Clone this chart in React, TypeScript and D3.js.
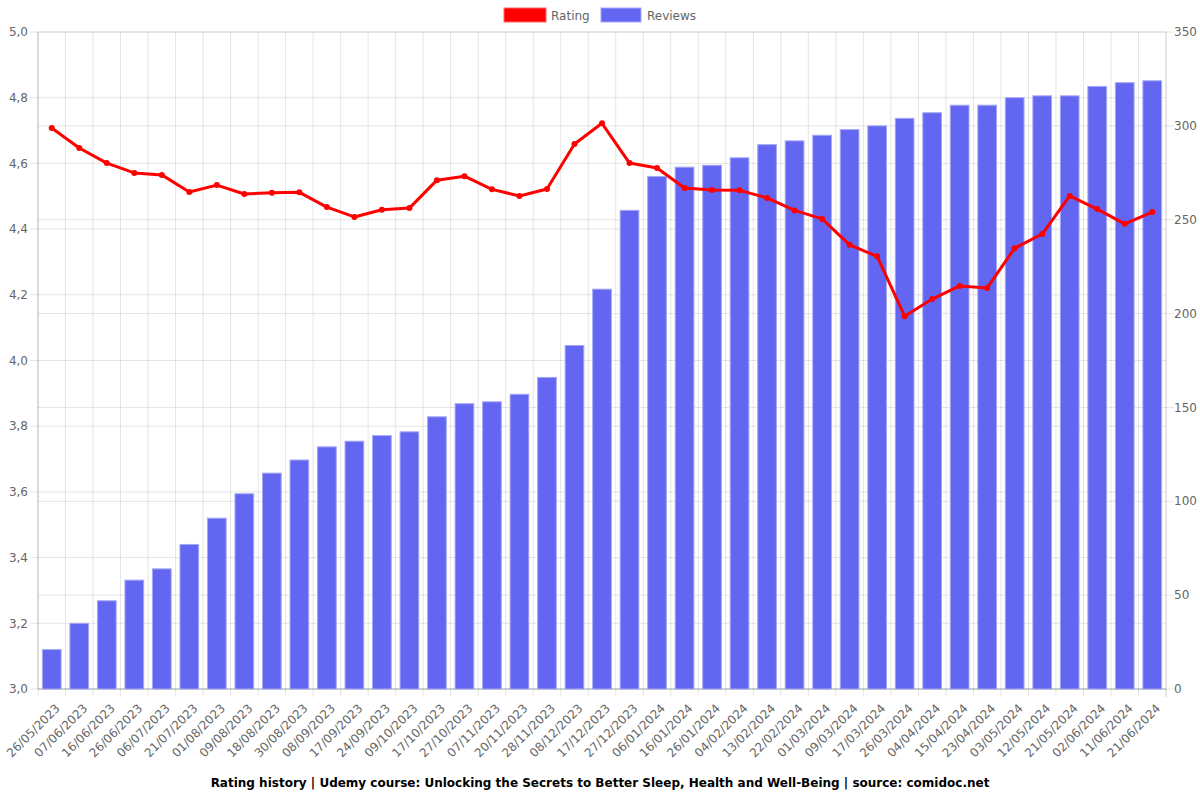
import React from "react";
import * as d3 from "d3";

const categories = ["26/05/2023","07/06/2023","16/06/2023","26/06/2023","06/07/2023","21/07/2023","01/08/2023","09/08/2023","18/08/2023","30/08/2023","08/09/2023","17/09/2023","24/09/2023","09/10/2023","17/10/2023","27/10/2023","07/11/2023","20/11/2023","28/11/2023","08/12/2023","17/12/2023","27/12/2023","06/01/2024","16/01/2024","26/01/2024","04/02/2024","13/02/2024","22/02/2024","01/03/2024","09/03/2024","17/03/2024","26/03/2024","04/04/2024","15/04/2024","23/04/2024","03/05/2024","12/05/2024","21/05/2024","02/06/2024","11/06/2024","21/06/2024"];

const reviews = [21,35,47,58,64,77,91,104,115,122,129,132,135,137,145,152,153,157,166,183,213,255,273,278,279,283,290,292,295,298,300,304,307,311,311,315,316,316,321,323,324];

const rating = [4.708,4.647,4.601,4.571,4.565,4.513,4.534,4.507,4.511,4.512,4.467,4.437,4.459,4.464,4.549,4.561,4.521,4.501,4.522,4.659,4.722,4.601,4.586,4.525,4.519,4.518,4.495,4.457,4.431,4.352,4.317,4.135,4.187,4.227,4.221,4.342,4.385,4.501,4.461,4.416,4.452];

const ratingTicks = [3.0,3.2,3.4,3.6,3.8,4.0,4.2,4.4,4.6,4.8,5.0];
const reviewTicks = [0,50,100,150,200,250,300,350];

const title = "Rating history | Udemy course: Unlocking the Secrets to Better Sleep, Health and Well-Being | source: comidoc.net";

export default function App() {
  const W = 1200, H = 800;
  const left = 38, right = 1166, top = 32, bottom = 689;
  const font = "'DejaVu Sans', sans-serif";
  const x = d3.scaleBand<string>().domain(categories).range([left, right]).paddingInner(0).paddingOuter(0);
  const bw = x.bandwidth();
  const barW = bw * 0.68;
  const yL = d3.scaleLinear().domain([3, 5]).range([bottom, top]);
  const yR = d3.scaleLinear().domain([0, 350]).range([bottom, top]);
  const line = d3.line<number>().x((_, i) => (x(categories[i]) as number) + bw / 2).y(d => yL(d));
  const fmt = (v: number) => v.toFixed(1).replace(".", ",");
  const grid = "rgba(0,0,0,0.1)";
  const axisC = "rgba(0,0,0,0.2)";

  return (
    <svg width={W} height={H} style={{ position: "absolute", left: 0, top: 0, fontFamily: font }}>
      <rect width={W} height={H} fill="#fff" />
      {categories.map((c, i) => (
        <line key={"vg" + i} x1={x(c) as number} x2={x(c) as number} y1={top} y2={bottom + 8} stroke={grid} />
      ))}
      <line x1={right} x2={right} y1={top} y2={bottom + 8} stroke={axisC} />
      {ratingTicks.map((t, i) => (
        <line key={"hl" + i} x1={left - 8} x2={right} y1={yL(t)} y2={yL(t)} stroke={grid} />
      ))}
      {reviewTicks.map((t, i) => (
        <line key={"hr" + i} x1={left} x2={right + 8} y1={yR(t)} y2={yR(t)} stroke={grid} />
      ))}
      <line x1={left} x2={left} y1={top} y2={bottom} stroke={axisC} />
      <line x1={left} x2={right} y1={bottom} y2={bottom} stroke={axisC} />
      {reviews.map((v, i) => (
        <rect key={"b" + i} x={(x(categories[i]) as number) + (bw - barW) / 2} y={yR(v)} width={barW} height={bottom - yR(v)}
          fill="#6366f1" stroke="#a5a8f6" strokeWidth={1} />
      ))}
      <path d={line(rating) || ""} fill="none" stroke="#ff0000" strokeWidth={3} strokeLinejoin="round" />
      {rating.map((v, i) => (
        <circle key={"p" + i} cx={(x(categories[i]) as number) + bw / 2} cy={yL(v)} r={3} fill="#ff0000" />
      ))}
      {ratingTicks.map((t, i) => (
        <text key={"lt" + i} x={left - 10} y={yL(t)} dy="0.35em" textAnchor="end" fontSize={12} fill="#666">{fmt(t)}</text>
      ))}
      {reviewTicks.map((t, i) => (
        <text key={"rt" + i} x={right + 8} y={yR(t)} dy="0.35em" textAnchor="start" fontSize={12} fill="#666">{t}</text>
      ))}
      {categories.map((c, i) => {
        const cx = (x(c) as number) + bw / 2 + 6;
        const cy = bottom + 17;
        return (
          <text key={"xl" + i} transform={`translate(${cx},${cy}) rotate(-45)`} textAnchor="end" dy="0.35em" fontSize={12} fill="#666">{c}</text>
        );
      })}
      <rect x={504} y={8} width={42} height={14} fill="#ff0000" stroke="#ff6666" />
      <text x={551} y={16} dy="0.35em" fontSize={12} fill="#666">Rating</text>
      <rect x={601} y={8} width={40} height={14} fill="#6366f1" stroke="#a5a8f6" />
      <text x={647} y={16} dy="0.35em" fontSize={12} fill="#666">Reviews</text>
      <text x={600} y={783} dy="0.35em" textAnchor="middle" fontSize={12} fontWeight="bold" fill="#000">{title}</text>
    </svg>
  );
}
